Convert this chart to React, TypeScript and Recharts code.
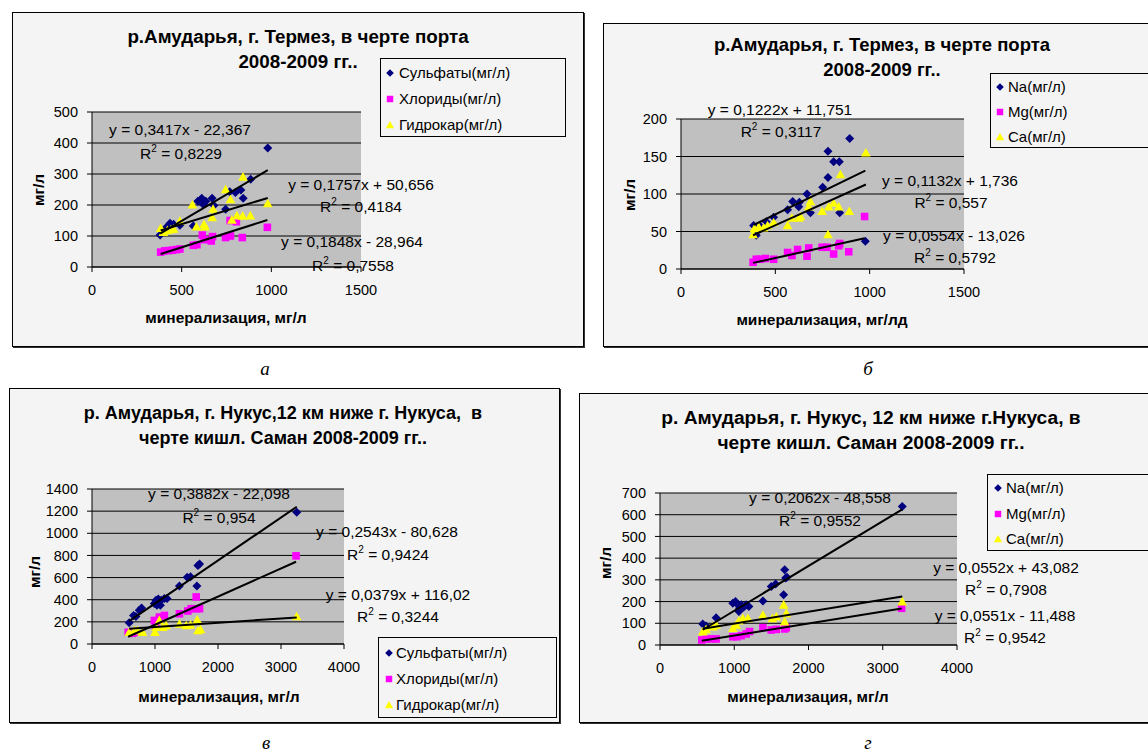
import React from "react";
import { ScatterChart, Scatter, XAxis, YAxis, CartesianGrid } from "recharts";

const FONT = "Arial, 'Liberation Sans', sans-serif";
const NAVY = "#000080";
const PINK = "#ff00ff";
const YELLOW = "#ffff00";

type Pt = [number, number];
type Mark = "diamond" | "square" | "triangle";

// р.Амударья, г. Термез — анионы
const sulfTermez: Pt[] = [[380,103],[400,118],[415,128],[435,141],[455,138],[490,135],[565,132],[590,212],[612,222],[620,202],[635,212],[670,222],[680,198],[745,186],[768,243],[800,240],[830,248],[843,222],[885,283],[980,384]];
const chlorTermez: Pt[] = [[383,48],[405,52],[425,53],[448,54],[470,56],[490,58],[565,70],[585,72],[615,103],[625,88],[665,84],[672,98],[745,95],[772,100],[770,150],[805,146],[838,95],[978,128]];
const hydroTermez: Pt[] = [[383,125],[398,112],[420,118],[440,121],[455,123],[490,148],[560,201],[582,130],[625,138],[630,130],[670,160],[675,187],[745,250],[772,218],[780,152],[808,166],[840,165],[842,291],[883,166],[980,205]];

// р.Амударья, г. Термез — катионы
const naTermez: Pt[] = [[385,58],[399,45],[420,57],[452,63],[491,69],[565,79],[592,90],[624,83],[627,89],[668,100],[686,75],[751,109],[779,122],[779,157],[809,143],[839,143],[841,75],[894,174],[977,37]];
const mgTermez: Pt[] = [[382,9],[399,13],[420,13],[447,14],[491,13],[565,22],[588,18],[618,26],[668,17],[677,28],[748,29],[774,29],[809,20],[836,31],[841,34],[889,23],[973,70]];
const caTermez: Pt[] = [[382,46],[389,54],[412,56],[438,55],[459,58],[491,62],[565,58],[588,68],[624,68],[633,70],[677,83],[686,90],[748,77],[779,46],[783,83],[809,88],[836,83],[845,126],[892,77],[980,155]];

// р. Амударья, г. Нукус — анионы
const sulfNukus: Pt[] = [[590,191],[660,258],[697,249],[750,304],[787,325],[989,365],[1016,395],[1032,349],[1053,407],[1085,349],[1096,395],[1149,410],[1191,410],[1388,523],[1511,602],[1564,608],[1665,523],[1681,708],[1707,723],[3250,1191]];
const chlorNukus: Pt[] = [[574,106],[644,97],[670,106],[989,213],[1010,160],[1069,243],[1149,258],[1388,273],[1521,298],[1574,319],[1654,319],[1707,319],[1654,425],[3239,796]];
const hydroNukus: Pt[] = [[590,106],[670,122],[723,122],[803,106],[1000,106],[1016,152],[1069,213],[1122,152],[1176,167],[1388,182],[1495,167],[1564,173],[1670,219],[1681,122],[1723,131],[3250,249]];

// р. Амударья, г. Нукус — катионы
const naNukus: Pt[] = [[576,97],[621,88],[756,126],[981,192],[1017,200],[1049,185],[1062,154],[1071,169],[1094,185],[1125,174],[1161,185],[1197,177],[1386,203],[1498,269],[1557,281],[1665,231],[1679,346],[1692,308],[1710,312],[3263,638]];
const mgNukus: Pt[] = [[563,23],[621,28],[688,28],[756,28],[981,38],[1035,38],[1094,43],[1161,51],[1206,62],[1386,80],[1498,69],[1566,72],[1679,74],[1701,80],[3254,169]];
const caNukus: Pt[] = [[576,62],[621,72],[711,85],[756,92],[981,77],[1026,92],[1062,112],[1116,123],[1184,123],[1386,138],[1512,123],[1566,131],[1665,185],[1679,108],[1701,146],[3263,200]];

// linear trends: [slope, intercept, R²]
const fitSulfTermez = [0.3417, -22.367, 0.8229];
const fitChlorTermez = [0.1848, -28.964, 0.7558];
const fitHydroTermez = [0.1757, 50.656, 0.4184];
const fitNaTermez = [0.1222, 11.751, 0.3117];
const fitMgTermez = [0.0554, -13.026, 0.5792];
const fitCaTermez = [0.1132, 1.736, 0.557];
const fitSulfNukus = [0.3882, -22.098, 0.954];
const fitChlorNukus = [0.2543, -80.628, 0.9424];
const fitHydroNukus = [0.0379, 116.02, 0.3244];
const fitNaNukus = [0.2062, -48.558, 0.9552];
const fitMgNukus = [0.0551, -11.488, 0.9542];
const fitCaNukus = [0.0552, 43.082, 0.7908];

const ticksTermezX = [0, 500, 1000, 1500];
const ticksNukusX = [0, 1000, 2000, 3000, 4000];
const ticksAnionTermezY = [0, 100, 200, 300, 400, 500];
const ticksCationTermezY = [0, 50, 100, 150, 200];
const ticksAnionNukusY = [0, 200, 400, 600, 800, 1000, 1200, 1400];
const ticksCationNukusY = [0, 100, 200, 300, 400, 500, 600, 700];

const titleTermez = ["р.Амударья, г. Термез, в черте порта", "2008-2009 гг.."];
const titleNukusA = ["р. Амударья, г. Нукус,12 км ниже г. Нукуса,  в", "черте кишл. Саман 2008-2009 гг.."];
const titleNukusC = ["р. Амударья, г. Нукус, 12 км ниже г.Нукуса, в", "черте кишл. Саман 2008-2009 гг.."];

type Series = {
  name: string;
  kind: Mark;
  color: string;
  pts: Pt[];
  fit: number[];
  eq: Pt;
  r2: Pt;
};

type PanelDef = {
  frame: number[];
  plot: number[];
  xTicks: number[];
  yTicks: number[];
  title: string[];
  titleAt: number[];
  titleSize: number;
  xLabel: string;
  xLabelAt: Pt;
  yLabelAt: Pt;
  legendBox: number[];
  legendRows: number[];
  legendX: Pt;
  series: Series[];
};

const panels: PanelDef[] = [
  {
    frame: [12, 12, 572, 335],
    plot: [92, 112, 269, 155],
    xTicks: ticksTermezX,
    yTicks: ticksAnionTermezY,
    title: titleTermez,
    titleAt: [298, 37, 62],
    titleSize: 18.8,
    xLabel: "минерализация, мг/л",
    xLabelAt: [226, 318],
    yLabelAt: [39, 190],
    legendBox: [380, 58, 186, 79],
    legendRows: [71.7, 98.3, 124.3],
    legendX: [390, 399],
    series: [
      { name: "Сульфаты(мг/л)", kind: "diamond", color: NAVY, pts: sulfTermez, fit: fitSulfTermez, eq: [180, 130], r2: [181, 154] },
      { name: "Хлориды(мг/л)", kind: "square", color: PINK, pts: chlorTermez, fit: fitChlorTermez, eq: [352, 242], r2: [353, 266] },
      { name: "Гидрокар(мг/л)", kind: "triangle", color: YELLOW, pts: hydroTermez, fit: fitHydroTermez, eq: [361, 185], r2: [361, 207] },
    ],
  },
  {
    frame: [603, 23, 560, 324],
    plot: [681, 119, 283, 150],
    xTicks: ticksTermezX,
    yTicks: ticksCationTermezY,
    title: titleTermez,
    titleAt: [882, 45, 70],
    titleSize: 18.5,
    xLabel: "минерализация, мг/лд",
    xLabelAt: [822, 320],
    yLabelAt: [630, 195],
    legendBox: [990, 73, 200, 75],
    legendRows: [86, 111, 136],
    legendX: [999.5, 1008],
    series: [
      { name: "Na(мг/л)", kind: "diamond", color: NAVY, pts: naTermez, fit: fitNaTermez, eq: [780, 110], r2: [781, 132] },
      { name: "Mg(мг/л)", kind: "square", color: PINK, pts: mgTermez, fit: fitMgTermez, eq: [954, 236], r2: [955, 258] },
      { name: "Ca(мг/л)", kind: "triangle", color: YELLOW, pts: caTermez, fit: fitCaTermez, eq: [950, 181], r2: [951, 203] },
    ],
  },
  {
    frame: [9, 388, 551, 335],
    plot: [92, 489, 252, 155],
    xTicks: ticksNukusX,
    yTicks: ticksAnionNukusY,
    title: titleNukusA,
    titleAt: [283, 413, 438],
    titleSize: 18,
    xLabel: "минерализация, мг/л",
    xLabelAt: [219, 697],
    yLabelAt: [35, 572],
    legendBox: [378, 637, 179, 81],
    legendRows: [652, 678, 704],
    legendX: [389, 396],
    series: [
      { name: "Сульфаты(мг/л)", kind: "diamond", color: NAVY, pts: sulfNukus, fit: fitSulfNukus, eq: [219, 494], r2: [219, 518] },
      { name: "Хлориды(мг/л)", kind: "square", color: PINK, pts: chlorNukus, fit: fitChlorNukus, eq: [387, 532], r2: [388, 555] },
      { name: "Гидрокар(мг/л)", kind: "triangle", color: YELLOW, pts: hydroNukus, fit: fitHydroNukus, eq: [398, 595], r2: [398, 617] },
    ],
  },
  {
    frame: [579, 393, 575, 330],
    plot: [660, 493, 297, 152],
    xTicks: ticksNukusX,
    yTicks: ticksCationNukusY,
    title: titleNukusC,
    titleAt: [871, 418, 443],
    titleSize: 19.2,
    xLabel: "минерализация, мг/л",
    xLabelAt: [808, 697],
    yLabelAt: [606, 563],
    legendBox: [987, 474, 200, 77],
    legendRows: [487, 513, 538],
    legendX: [998, 1006],
    series: [
      { name: "Na(мг/л)", kind: "diamond", color: NAVY, pts: naNukus, fit: fitNaNukus, eq: [820, 498], r2: [820, 521] },
      { name: "Mg(мг/л)", kind: "square", color: PINK, pts: mgNukus, fit: fitMgNukus, eq: [1005, 616], r2: [1005, 638] },
      { name: "Ca(мг/л)", kind: "triangle", color: YELLOW, pts: caNukus, fit: fitCaNukus, eq: [1006, 568], r2: [1006, 590] },
    ],
  },
];

const captions: [string, number, number][] = [
  ["а", 265, 368],
  ["б", 868, 368],
  ["в", 266, 742],
  ["г", 868, 742],
];

function markerPath(kind: Mark, cx: number, cy: number, s = 1): string {
  if (kind === "diamond") {
    const r = 4.5 * s;
    return `M${cx},${cy - r}L${cx + r},${cy}L${cx},${cy + r}L${cx - r},${cy}Z`;
  }
  if (kind === "square") {
    const r = 3.8 * s;
    return `M${cx - r},${cy - r}H${cx + r}V${cy + r}H${cx - r}Z`;
  }
  const r = 4.8 * s;
  return `M${cx},${cy - r}L${cx + r},${cy + r * 0.8}L${cx - r},${cy + r * 0.8}Z`;
}

const num = (v: number) => String(Math.abs(v)).replace(".", ",");
const eqText = (f: number[]) => `y = ${num(f[0])}x ${f[1] < 0 ? "-" : "+"} ${num(f[1])}`;

function trendEnds(s: Series) {
  const xs = s.pts.map((p) => p[0]);
  const lo = Math.min(...xs);
  const hi = Math.max(...xs);
  return [lo, hi].map((x) => ({ x, y: s.fit[0] * x + s.fit[1] }));
}

function Txt({ at, style, children }: { at: Pt; style?: React.CSSProperties; children: React.ReactNode }) {
  return (
    <div
      style={{
        position: "absolute",
        left: at[0],
        top: at[1],
        transform: "translate(-50%, -50%)",
        whiteSpace: "pre",
        lineHeight: 1,
        fontFamily: FONT,
        color: "#000",
        ...style,
      }}
    >
      {children}
    </div>
  );
}

const YW = 60;
const XH = 40;

function Panel({ p }: { p: PanelDef }) {
  const [fx, fy, fw, fh] = p.frame;
  const [px, py, pw, ph] = p.plot;
  const margin = {
    left: px - fx - YW,
    top: py - fy,
    right: fx + fw - px - pw,
    bottom: fy + fh - py - ph - XH,
  };
  const tick = { fill: "#000", fontSize: 14.5, fontFamily: FONT };
  const [lx, ly, lw, lh] = p.legendBox;

  return (
    <>
      <div
        style={{
          position: "absolute",
          left: fx,
          top: fy,
          width: fw,
          height: fh,
          boxSizing: "border-box",
          border: "1px solid #000",
          boxShadow: "1px 1px 0 #333",
          background: "#f4f4f4",
        }}
      />
      <div style={{ position: "absolute", left: fx, top: fy }}>
        <ScatterChart width={fw} height={fh} margin={margin}>
          <CartesianGrid vertical={false} stroke="#000" fill="#c0c0c0" fillOpacity={1} />
          <XAxis
            type="number"
            dataKey="x"
            domain={[0, p.xTicks[p.xTicks.length - 1]]}
            ticks={p.xTicks}
            interval={0}
            height={XH}
            tick={tick}
            tickSize={5}
            tickMargin={13}
            axisLine={{ stroke: "#000" }}
            tickLine={{ stroke: "#000" }}
          />
          <YAxis
            type="number"
            dataKey="y"
            domain={[0, p.yTicks[p.yTicks.length - 1]]}
            ticks={p.yTicks}
            interval={0}
            width={YW}
            tick={tick}
            tickSize={5}
            tickMargin={9}
            axisLine={{ stroke: "#000" }}
            tickLine={{ stroke: "#000" }}
          />
          {p.series.map((s) => (
            <Scatter
              key={s.name}
              name={s.name}
              data={s.pts.map(([x, y]) => ({ x, y }))}
              isAnimationActive={false}
              shape={(d: any) => <path d={markerPath(s.kind, d.cx, d.cy)} fill={s.color} />}
            />
          ))}
          {p.series.map((s) => (
            <Scatter
              key={s.name + "-trend"}
              data={trendEnds(s)}
              isAnimationActive={false}
              line={{ stroke: "#000", strokeWidth: 2 }}
              shape={() => <g />}
            />
          ))}
        </ScatterChart>
      </div>

      {p.title.map((t, i) => (
        <Txt key={i} at={[p.titleAt[0], p.titleAt[i + 1]]} style={{ fontSize: p.titleSize, fontWeight: "bold" }}>
          {t}
        </Txt>
      ))}
      <Txt at={p.xLabelAt} style={{ fontSize: 15.5, fontWeight: "bold" }}>
        {p.xLabel}
      </Txt>
      <Txt
        at={p.yLabelAt}
        style={{ fontSize: 15.5, fontWeight: "bold", transform: "translate(-50%, -50%) rotate(-90deg)" }}
      >
        мг/л
      </Txt>

      {p.series.map((s) => (
        <React.Fragment key={s.name + "-eq"}>
          <Txt at={s.eq} style={{ fontSize: 15.5 }}>
            {eqText(s.fit)}
          </Txt>
          <Txt at={s.r2} style={{ fontSize: 15.5 }}>
            R<span style={{ fontSize: 10, position: "relative", top: -7 }}>2</span> = {num(s.fit[2])}
          </Txt>
        </React.Fragment>
      ))}

      <div
        style={{
          position: "absolute",
          left: lx,
          top: ly,
          width: lw,
          height: lh,
          boxSizing: "border-box",
          border: "1px solid #000",
          background: "#f4f4f4",
        }}
      />
      {p.series.map((s, i) => (
        <React.Fragment key={s.name + "-lg"}>
          <svg
            width={14}
            height={14}
            style={{ position: "absolute", left: p.legendX[0] - 7, top: p.legendRows[i] - 6 }}
          >
            <path d={markerPath(s.kind, 7, 7, 0.85)} fill={s.color} />
          </svg>
          <div
            style={{
              position: "absolute",
              left: p.legendX[1],
              top: p.legendRows[i],
              transform: "translateY(-50%)",
              fontFamily: FONT,
              fontSize: 15,
              lineHeight: 1,
              whiteSpace: "pre",
            }}
          >
            {s.name}
          </div>
        </React.Fragment>
      ))}
    </>
  );
}

export default function App() {
  return (
    <div
      style={{
        position: "absolute",
        left: 0,
        top: 0,
        width: 1148,
        height: 751,
        overflow: "hidden",
        background: "#fff",
      }}
    >
      {panels.map((p, i) => (
        <Panel key={i} p={p} />
      ))}
      {captions.map(([c, x, y]) => (
        <Txt
          key={c}
          at={[x, y]}
          style={{ fontFamily: "'Times New Roman', 'Liberation Serif', serif", fontStyle: "italic", fontSize: 19 }}
        >
          {c}
        </Txt>
      ))}
    </div>
  );
}
